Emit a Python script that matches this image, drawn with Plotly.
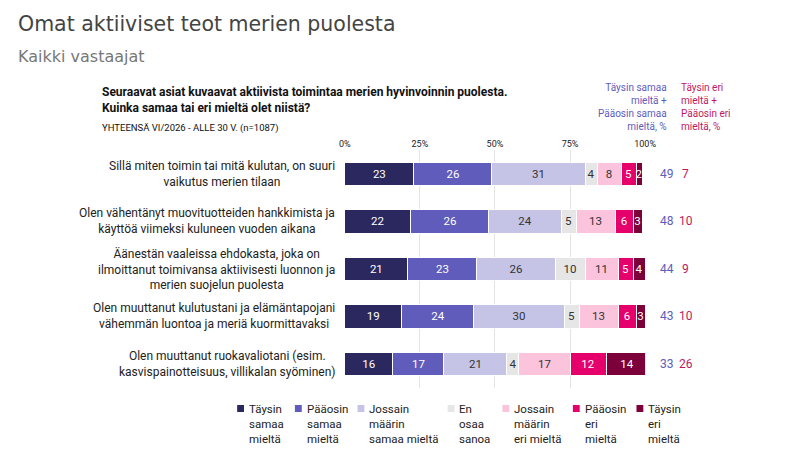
import plotly.graph_objects as go

categories = [
    "Sillä miten toimin tai mitä kulutan, on suuri<br>vaikutus merien tilaan",
    "Olen vähentänyt muovituotteiden hankkimista ja<br>käyttöä viimeksi kuluneen vuoden aikana",
    "Äänestän vaaleissa ehdokasta, joka on<br>ilmoittanut toimivansa aktiivisesti luonnon ja<br>merien suojelun puolesta",
    "Olen muuttanut kulutustani ja elämäntapojani<br>vähemmän luontoa ja meriä kuormittavaksi",
    "Olen muuttanut ruokavaliotani (esim.<br>kasvispainotteisuus, villikalan syöminen)",
]
series_names = ["Täysin<br>samaa<br>mieltä", "Pääosin<br>samaa<br>mieltä", "Jossain<br>määrin<br>samaa mieltä",
                "En<br>osaa<br>sanoa", "Jossain<br>määrin<br>eri mieltä", "Pääosin<br>eri<br>mieltä", "Täysin<br>eri<br>mieltä"]
values = [
    [23, 22, 21, 19, 16],
    [26, 26, 23, 24, 17],
    [31, 24, 26, 30, 21],
    [4, 5, 10, 5, 4],
    [8, 13, 11, 13, 17],
    [5, 6, 5, 6, 12],
    [2, 3, 4, 3, 14],
]
agree_sum = [49, 48, 44, 43, 33]
disagree_sum = [7, 10, 9, 10, 26]
tick_vals = [0, 25, 50, 75, 100]
tick_text = ["0%", "25%", "50%", "75%", "100%"]

colors = ["#2a285e", "#5f5cbb", "#c5c4e6", "#e6e6e6", "#fbc3dc", "#e6006b", "#7c003a"]
text_colors = ["white", "white", "#333", "#333", "#333", "white", "white"]
FONT = "Liberation Sans Narrow, Roboto"

fig = go.Figure()
for name, vals, c, tc in zip(series_names, values, colors, text_colors):
    fig.add_trace(go.Bar(
        y=categories, x=vals, name=name, orientation="h", showlegend=False,
        marker=dict(color=c, line=dict(color="white", width=1)),
        text=vals, textposition="inside", insidetextanchor="middle", constraintext="none",
        textfont=dict(color=tc, size=11.5, family=FONT), width=0.5,
    ))

for cat, a, d in zip(categories, agree_sum, disagree_sum):
    fig.add_annotation(x=0.834, xref="paper", y=cat, yref="y", text=str(a), showarrow=False,
                       font=dict(color="#5f5cbb", size=12), xanchor="center")
    fig.add_annotation(x=0.858, xref="paper", y=cat, yref="y", text=str(d), showarrow=False,
                       font=dict(color="#c0185f", size=12), xanchor="center")
    fig.add_annotation(x=0.413, xref="paper", y=cat, yref="y", text=cat, showarrow=False,
                       font=dict(color="#222", size=12), xanchor="right", align="center")

# manual legend
legend_x = [232, 291, 355, 447, 503, 575, 640]
for name, c, lx in zip(series_names, colors, legend_x):
    fig.add_shape(type="rect", xref="paper", yref="paper",
                  x0=(lx - 4) / 800, x1=(lx + 3) / 800, y0=1 - 404 / 466, y1=1 - 397 / 466,
                  fillcolor=c, line=dict(width=0))
    fig.add_annotation(x=(lx + 6) / 800, y=1 - 392 / 466, xref="paper", yref="paper",
                       xanchor="left", yanchor="top", text=name, showarrow=False, align="left",
                       font=dict(size=11.5, color="#222"))

fig.add_annotation(x=0.003, y=0.995, xref="paper", yref="paper", xanchor="left", yanchor="top",
                   text="Omat aktiiviset teot merien puolesta", showarrow=False,
                   font=dict(size=20.5, color="#444", family="DejaVu Sans"))
fig.add_annotation(x=0.003, y=0.92, xref="paper", yref="paper", xanchor="left", yanchor="top",
                   text="Kaikki vastaajat", showarrow=False,
                   font=dict(size=16, color="#777", family="DejaVu Sans"))
fig.add_annotation(x=0.11, y=0.84, xref="paper", yref="paper", xanchor="left", yanchor="top",
                   text="<b>Seuraavat asiat kuvaavat aktiivista toimintaa merien hyvinvoinnin puolesta.<br>Kuinka samaa tai eri mieltä olet niistä?</b>",
                   showarrow=False, align="left", font=dict(size=12, color="#111"))
fig.add_annotation(x=0.11, y=0.76, xref="paper", yref="paper", xanchor="left", yanchor="top",
                   text="YHTEENSÄ VI/2026 - ALLE 30 V. (n=1087)", showarrow=False,
                   font=dict(size=9.5, color="#111"))
fig.add_annotation(x=0.836, y=0.845, xref="paper", yref="paper", xanchor="right", yanchor="top",
                   text="Täysin samaa<br>mieltä +<br>Pääosin samaa<br>mieltä, %", showarrow=False,
                   align="right", font=dict(size=10, color="#5f5cbb"))
fig.add_annotation(x=0.849, y=0.845, xref="paper", yref="paper", xanchor="left", yanchor="top",
                   text="Täysin eri<br>mieltä +<br>Pääosin eri<br>mieltä, %", showarrow=False,
                   align="left", font=dict(size=10, color="#c0185f"))

fig.update_layout(
    width=800, height=466, barmode="stack", plot_bgcolor="white", paper_bgcolor="white",
    margin=dict(l=0, r=0, t=0, b=0), font=dict(family=FONT, color="#222"),
    showlegend=False,
    xaxis=dict(domain=[0.4225, 0.806], range=[0, 100], tickvals=tick_vals, ticktext=tick_text,
               side="top", showgrid=True, gridcolor="#e4e4e4", zeroline=False,
               tickfont=dict(size=9, color="#222"), ticklen=0),
    yaxis=dict(domain=[0.185, 0.695], autorange="reversed", showticklabels=False, showgrid=False),
)

fig.write_html("out.html")
